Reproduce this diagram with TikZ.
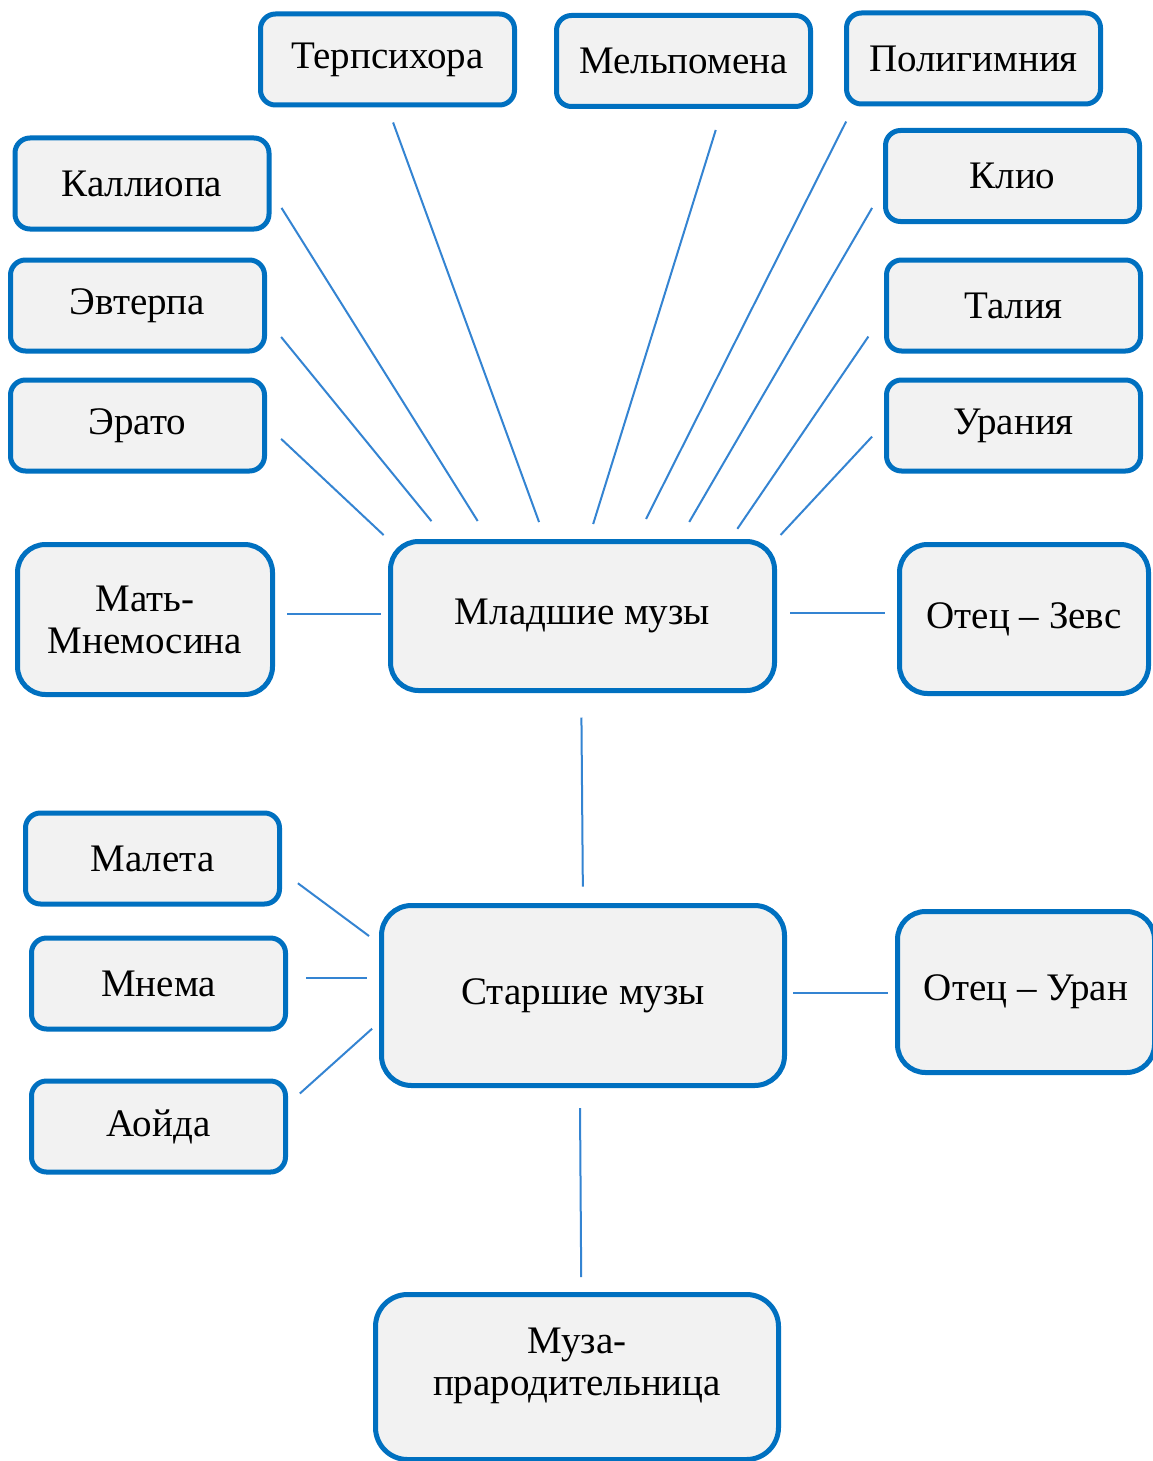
\documentclass[tikz,border=0pt]{standalone}
\usepackage{fontspec}
\setmainfont{Liberation Serif}
\usetikzlibrary{positioning}
\definecolor{boxblue}{RGB}{0,112,192}
\definecolor{boxfill}{RGB}{242,242,242}
\definecolor{linkblue}{RGB}{52,132,210}

\begin{document}
\begin{tikzpicture}[x=1pt,y=-1pt,
    muse/.style={rectangle,draw=boxblue,fill=boxfill,line width=5pt,rounded corners=15pt,
      minimum width=254pt,minimum height=91pt,inner sep=0pt,outer sep=0pt,
      font=\fontsize{39}{42}\selectfont,align=center},
    group/.style={muse,rounded corners=28pt},
    link/.style={draw=linkblue,line width=2pt}]

  \useasboundingbox[fill=white] (0,0) rectangle (1153,1461);

  % younger muses
  \node[group, minimum width=384pt, minimum height=149pt] (mlad) at (582.5,616) {Младшие музы};
  \node[muse] (terps) at (387.5,59.5) {Терпсихора};
  \node[muse] (melpo) at (683.5,61) {Мельпомена};
  \node[muse] (poly) at (973.5,58.5) {Полигимния};
  \node[muse] (kalli) at (142,183.5) {Каллиопа};
  \node[muse] (evterp) at (137.5,305.5) {Эвтерпа};
  \node[muse, on grid, below=120pt of evterp] (erato) {Эрато};
  \node[muse] (klio) at (1012.5,176) {Клио};
  \node[muse] (talia) at (1013.5,305.5) {Талия};
  \node[muse, on grid, below=120pt of talia] (urania) {Урания};
  \node[group, minimum width=255pt, minimum height=150pt] (mnemos) at (145,619.5) {Мать-\\Мнемосина};
  \node[group, minimum width=249pt, minimum height=149pt] (zeus) at (1024,619) {Отец – Зевс};

  % elder muses
  \node[group, minimum width=403pt, minimum height=180pt, rounded corners=30pt] (starsh) at (583,995.5) {Старшие музы};
  \node[muse] (maleta) at (152.5,858.5) {Малета};
  \node[muse] (mnema) at (158.5,983.5) {Мнема};
  \node[muse, on grid, below=143pt of mnema] (aoida) {Аойда};
  \node[group, minimum width=257pt, minimum height=161pt] (uran) at (1026,992) {Отец – Уран};
  \node[group, minimum width=403pt, minimum height=165pt, rounded corners=32pt] (muza) at (577,1377)
    {Муза-\\прародительница\rule[-30pt]{0pt}{0pt}};

\draw[link, shorten <=23.6pt, shorten >=24.2pt] (kalli.-2) -- (mlad.141.2);
\draw[link, shorten <=18.6pt, shorten >=20.7pt] (terps.-91) -- (mlad.116.7);
\draw[link, shorten <=24.6pt, shorten >=18.3pt] (melpo.-49.5) -- (mlad.86.9);
\draw[link, shorten <=19.6pt, shorten >=25.2pt] (poly.-159) -- (mlad.55.5);
\draw[link, shorten <=26.7pt, shorten >=22.6pt] (klio.184) -- (mlad.38.4);
\draw[link, shorten <=26.3pt, shorten >=26.3pt] (evterp.-5) -- (mlad.151.4);
\draw[link, shorten <=32.2pt, shorten >=15.3pt] (talia.182.3) -- (mlad.27.7);
\draw[link, shorten <=22.8pt, shorten >=9.4pt] (erato.1.9) -- (mlad.north west);
\draw[link, shorten <=21.2pt, shorten >=8.9pt] (urania.178.2) -- (mlad.north east);
\draw[link, shorten <=14.5pt, shorten >=9.5pt] ([yshift=5.5pt]mnemos.east) -- ([yshift=2pt]mlad.west);
\draw[link, shorten <=15.5pt, shorten >=14.5pt] ([yshift=3pt]mlad.east) -- ([yshift=6pt]zeus.west);
\draw[link, shorten <=27pt, shorten >=18.8pt] (mlad.-91.5) -- (starsh.90.4);

\draw[link, shorten <=22.9pt, shorten >=15.5pt] (maleta.-5.4) -- (starsh.166);
\draw[link, shorten <=20.5pt, shorten >=14.5pt] ([yshift=5.5pt]mnema.east) -- ([yshift=17.5pt]starsh.west);
\draw[link, shorten <=19.3pt, shorten >=12.6pt] (aoida.9.8) -- (starsh.-173.15);
\draw[link, shorten <=8.5pt, shorten >=9.5pt] ([yshift=2.5pt]starsh.east) -- ([yshift=-1pt]uran.west);
\draw[link, shorten <=22.5pt, shorten >=17.5pt] (starsh.-92.5) -- (muza.87.4);

\end{tikzpicture}
\end{document}
